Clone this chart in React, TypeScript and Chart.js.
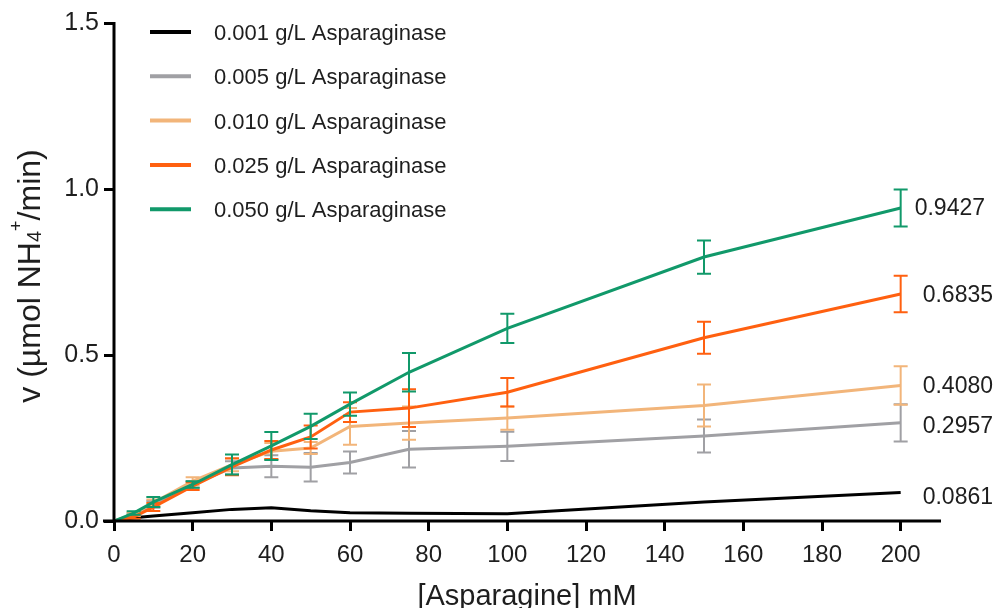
import React, { useEffect, useRef } from "react";
import { Chart, registerables } from "chart.js";

Chart.register(...registerables);

// ---------------- data ----------------
const asparagineMM = [0, 5, 10, 20, 30, 40, 50, 60, 75, 100, 150, 200];

const seriesNames = [
  "0.001 g/L Asparaginase",
  "0.005 g/L Asparaginase",
  "0.010 g/L Asparaginase",
  "0.025 g/L Asparaginase",
  "0.050 g/L Asparaginase",
];

const v0001 = [0, 0.01, 0.015, 0.025, 0.035, 0.04, 0.031, 0.025, 0.023, 0.022, 0.057, 0.0861];
const e0001 = [0, 0, 0, 0, 0, 0, 0, 0, 0, 0, 0, 0];

const v0005 = [0, 0.02, 0.05, 0.11, 0.16, 0.165, 0.162, 0.176, 0.216, 0.225, 0.256, 0.2957];
const e0005 = [0, 0.005, 0.01, 0.01, 0.02, 0.033, 0.043, 0.033, 0.055, 0.044, 0.05, 0.056];

const v0010 = [0, 0.02, 0.055, 0.12, 0.17, 0.21, 0.22, 0.285, 0.295, 0.31, 0.348, 0.408];
const e0010 = [0, 0.005, 0.01, 0.012, 0.02, 0.025, 0.018, 0.055, 0.05, 0.035, 0.063, 0.058];

const v0025 = [0, 0.012, 0.042, 0.105, 0.163, 0.214, 0.253, 0.328, 0.34, 0.388, 0.552, 0.6835];
const e0025 = [0, 0.005, 0.012, 0.012, 0.025, 0.027, 0.035, 0.03, 0.057, 0.043, 0.048, 0.055];

const v0050 = [0, 0.024, 0.057, 0.11, 0.17, 0.226, 0.285, 0.352, 0.448, 0.58, 0.795, 0.9427];
const e0050 = [0, 0.005, 0.015, 0.01, 0.03, 0.042, 0.038, 0.035, 0.058, 0.044, 0.05, 0.056];

const endLabels = ["0.0861", "0.2957", "0.4080", "0.6835", "0.9427"];

const xTickValues = [0, 20, 40, 60, 80, 100, 120, 140, 160, 180, 200];
const yTickValues = [0, 0.5, 1.0, 1.5];

// ---------------- styles ----------------
const FONT = "'Liberation Sans', Arial, sans-serif";
const TEXT = "#1e1e1e";
const colors = ["#000000", "#a0a0a4", "#f2b57a", "#ff6010", "#11996a"];
const labelOffsets = [
  { dx: 22, dy: 5 },
  { dx: 22, dy: 4 },
  { dx: 22, dy: 1 },
  { dx: 22, dy: 2 },
  { dx: 14, dy: 1 },
];

const allValues = [v0001, v0005, v0010, v0025, v0050];
const allErrors = [e0001, e0005, e0010, e0025, e0050];

const errorBarPlugin = {
  id: "errorBars",
  afterDatasetDraw(chart: any, args: any) {
    const ds: any = chart.data.datasets[args.index];
    const errs: number[] = ds.errors;
    if (!errs) return;
    const ctx = chart.ctx;
    const yScale = chart.scales.y;
    const meta = args.meta;
    ctx.save();
    ctx.strokeStyle = ds.borderColor;
    ctx.lineWidth = 2;
    meta.data.forEach((pt: any, i: number) => {
      const e = errs[i];
      if (!e) return;
      const v = ds.data[i].y;
      const x = pt.x;
      const yTop = yScale.getPixelForValue(v + e);
      const yBot = yScale.getPixelForValue(v - e);
      const cap = 7;
      ctx.beginPath();
      ctx.moveTo(x, yTop);
      ctx.lineTo(x, yBot);
      ctx.moveTo(x - cap, yTop);
      ctx.lineTo(x + cap, yTop);
      ctx.moveTo(x - cap, yBot);
      ctx.lineTo(x + cap, yBot);
      ctx.stroke();
    });
    ctx.restore();
  },
};

const decorPlugin = {
  id: "decor",
  afterDraw(chart: any) {
    const ctx = chart.ctx;
    const { left, right, top, bottom } = chart.chartArea;
    const xs = chart.scales.x;
    const ys = chart.scales.y;
    ctx.save();

    // axes lines
    ctx.strokeStyle = "#000";
    ctx.lineWidth = 3;
    ctx.beginPath();
    ctx.moveTo(left, top - 1);
    ctx.lineTo(left, bottom);
    ctx.moveTo(left - 11, bottom);
    ctx.lineTo(right + 1, bottom);
    ctx.stroke();

    // legend
    ctx.textAlign = "left";
    ctx.textBaseline = "middle";
    ctx.font = `22px ${FONT}`;
    seriesNames.forEach((name, i) => {
      const y = 32 + i * 44.3;
      ctx.strokeStyle = colors[i];
      ctx.lineWidth = 4;
      ctx.beginPath();
      ctx.moveTo(150, y);
      ctx.lineTo(191, y);
      ctx.stroke();
      ctx.fillStyle = TEXT;
      ctx.fillText(name, 214, y + 2);
    });

    // end labels
    ctx.font = `23px ${FONT}`;
    allValues.forEach((vals, i) => {
      const last = vals.length - 1;
      const x = xs.getPixelForValue(asparagineMM[last]) + labelOffsets[i].dx;
      const y = ys.getPixelForValue(vals[last]) + labelOffsets[i].dy;
      ctx.fillStyle = TEXT;
      ctx.fillText(endLabels[i], x, y);
    });

    // x title
    ctx.textAlign = "center";
    ctx.textBaseline = "alphabetic";
    ctx.font = `29px ${FONT}`;
    ctx.fillText("[Asparagine] mM", (left + right) / 2, 605);

    // y title with sub/superscript
    const parts = [
      { t: "v (µmol NH", s: 32, dy: 0 },
      { t: "4", s: 20, dy: 1 },
      { t: "+", s: 18, dy: -18 },
      { t: "/min)", s: 32, dy: 0 },
    ];
    ctx.translate(30, 276);
    ctx.rotate(-Math.PI / 2);
    ctx.textAlign = "left";
    let total = 0;
    parts.forEach((p) => {
      ctx.font = `${p.s}px ${FONT}`;
      total += ctx.measureText(p.t).width;
    });
    let cx = -total / 2;
    parts.forEach((p) => {
      ctx.font = `${p.s}px ${FONT}`;
      ctx.fillText(p.t, cx, 10 + p.dy);
      cx += ctx.measureText(p.t).width;
    });
    ctx.restore();
  },
};

export default function App() {
  const canvasRef = useRef<HTMLCanvasElement>(null);

  useEffect(() => {
    document.body.style.margin = "0";
    const canvas = canvasRef.current;
    if (!canvas) return;

    const datasets = allValues.map((vals, i) => ({
      label: seriesNames[i],
      data: asparagineMM.map((x, j) => ({ x, y: vals[j] })),
      borderColor: colors[i],
      backgroundColor: colors[i],
      borderWidth: 3,
      pointRadius: 0,
      tension: 0,
      fill: false,
      order: allValues.length - 1 - i,
      errors: allErrors[i],
    }));

    const chart = new Chart(canvas, {
      type: "line",
      data: { datasets: datasets as any },
      options: {
        animation: false,
        responsive: false,
        maintainAspectRatio: false,
        layout: { padding: { top: 23, right: 57, left: 0, bottom: 0 } },
        plugins: { legend: { display: false }, tooltip: { enabled: false } },
        scales: {
          x: {
            type: "linear",
            min: 0,
            max: 210,
            afterBuildTicks: (s: any) => {
              s.ticks = xTickValues.map((v) => ({ value: v }));
            },
            afterFit: (s: any) => {
              s.height = 87;
            },
            border: { display: false },
            grid: {
              drawOnChartArea: false,
              drawTicks: true,
              tickLength: 10,
              tickWidth: 3,
              tickColor: "#000",
            },
            ticks: {
              color: TEXT,
              font: { family: FONT, size: 24 },
              padding: 10,
              maxRotation: 0,
              autoSkip: false,
            },
          },
          y: {
            type: "linear",
            min: 0,
            max: 1.5,
            afterBuildTicks: (s: any) => {
              s.ticks = yTickValues.map((v) => ({ value: v }));
            },
            afterFit: (s: any) => {
              s.width = 114;
            },
            border: { display: false },
            grid: {
              drawOnChartArea: false,
              drawTicks: true,
              tickLength: 10,
              tickWidth: 3,
              tickColor: "#000",
            },
            ticks: {
              color: TEXT,
              font: { family: FONT, size: 25 },
              padding: 5,
              callback: (v: any) => Number(v).toFixed(1),
            },
          },
        },
      },
      plugins: [errorBarPlugin, decorPlugin],
    });

    return () => chart.destroy();
  }, []);

  return (
    <div style={{ width: 997, height: 608 }}>
      <canvas ref={canvasRef} width={997} height={608} />
    </div>
  );
}
